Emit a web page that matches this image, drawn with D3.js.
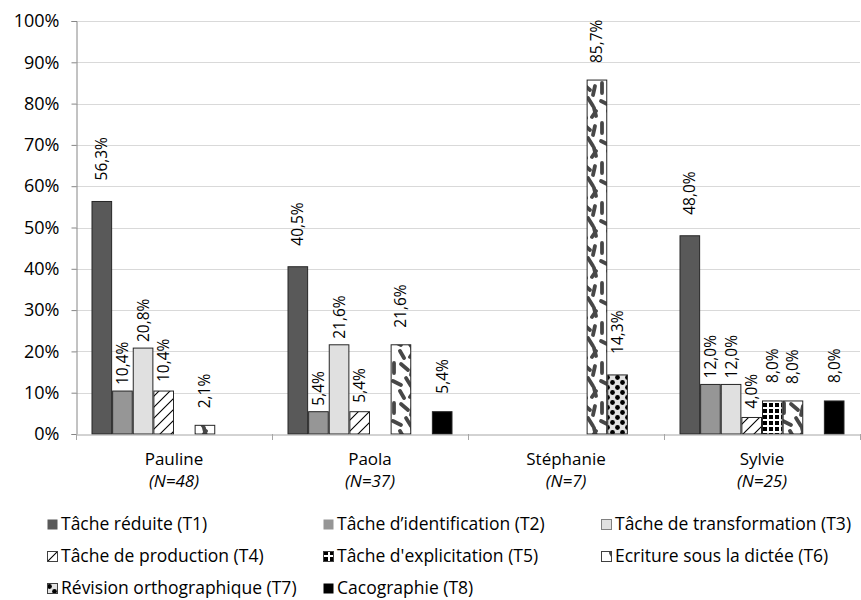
<!DOCTYPE html>
<html><head><meta charset="utf-8">
<script src="https://cdn.jsdelivr.net/npm/d3@7"></script>
<style>
body{margin:0;background:#fff;}
text{font-family:"Open Sans","Noto Sans",sans-serif;fill:#000;}
</style></head>
<body><svg id="c" width="861" height="600"></svg>
<script>
const categories = ["Pauline","Paola","Stéphanie","Sylvie"];
const categoryN = ["(N=48)","(N=37)","(N=7)","(N=25)"];
const seriesNames = ["Tâche réduite (T1)","Tâche d’identification (T2)","Tâche de transformation (T3)",
  "Tâche de production (T4)","Tâche d'explicitation (T5)","Ecriture sous la dictée (T6)",
  "Révision orthographique (T7)","Cacographie (T8)"];
// values (%) per series, one per category
const T1 = [56.3, 40.5, 0, 48.0];
const T2 = [10.4, 5.4, 0, 12.0];
const T3 = [20.8, 21.6, 0, 12.0];
const T4 = [10.4, 5.4, 0, 4.0];
const T5 = [0, 0, 0, 8.0];
const T6 = [2.1, 21.6, 85.7, 8.0];
const T7 = [0, 0, 14.3, 0];
const T8 = [0, 5.4, 0, 8.0];
const seriesValues = [T1,T2,T3,T4,T5,T6,T7,T8];
const yTicks = [0,10,20,30,40,50,60,70,80,90,100];

// styles
const labelGap = [21, 6, 6, 9, 18, 17, 21, 18];
const fills = ["#595959","#969696","#e0e0e0","url(#pT4)","url(#pT5)","url(#pT6)","url(#pT7)","#000000"];

const svg = d3.select("#c");
const defs = svg.append("defs");
// T4 hatch
let p = defs.append("pattern").attr("id","pT4").attr("patternUnits","userSpaceOnUse").attr("width",11).attr("height",11);
p.append("rect").attr("width",11).attr("height",11).attr("fill","#fff");
p.append("path").attr("d","M0,11 L11,0 M-2,2 L2,-2 M9,13 L13,9").attr("stroke","#000").attr("stroke-width",1.1);
// T5 squares
p = defs.append("pattern").attr("id","pT5").attr("patternUnits","userSpaceOnUse").attr("width",6).attr("height",6);
p.append("rect").attr("width",6).attr("height",6).attr("fill","#fff");
p.append("rect").attr("x",1).attr("y",1).attr("width",4).attr("height",4).attr("fill","#000");
// T6 confetti dashes
p = defs.append("pattern").attr("id","pT6").attr("patternUnits","userSpaceOnUse").attr("width",26).attr("height",40);
p.append("rect").attr("width",26).attr("height",40).attr("fill","#ffffff");
const dashes = [[4,3,4,13],[11,4,18,10],[23,6,21,15],[3,21,11,25],[16,18,21,26],[10,31,14,38],
  [24,31,20,37],[-2,28,-4,36],[22,28,24,36]];
dashes.forEach(d=>p.append("line").attr("x1",d[0]).attr("y1",d[1]).attr("x2",d[2]).attr("y2",d[3])
  .attr("stroke","#474747").attr("stroke-width",3.8).attr("stroke-linecap","round"));
// T7 dots
p = defs.append("pattern").attr("id","pT7").attr("patternUnits","userSpaceOnUse").attr("width",10).attr("height",10);
p.append("rect").attr("width",10).attr("height",10).attr("fill","#e3e3e3");
p.append("circle").attr("cx",2.5).attr("cy",2.5).attr("r",2.4).attr("fill","#000");
p.append("circle").attr("cx",7.5).attr("cy",7.5).attr("r",2.4).attr("fill","#000");

const pLeft = 76, pRight = 860, pTop = 21, pBottom = 434;
const x0 = d3.scaleBand().domain(categories).range([pLeft,pRight]).padding(0);
const x1 = d3.scaleBand().domain(d3.range(8)).range([15.5, x0.bandwidth()-15.5]).padding(0);
const y = d3.scaleLinear().domain([0,100]).range([pBottom,pTop]);

// gridlines
svg.append("g").selectAll("line").data(yTicks.filter(t=>t>0)).join("line")
  .attr("x1",pLeft).attr("x2",pRight).attr("y1",d=>Math.round(y(d))+0.5).attr("y2",d=>Math.round(y(d))+0.5)
  .attr("stroke","#d9d9d9").attr("stroke-width",1);

// y axis
const yAxis = d3.axisLeft(y).tickValues(yTicks).tickFormat(d=>d+"%").tickSize(5).tickPadding(12);
const gy = svg.append("g").attr("transform",`translate(${pLeft+0.5},0)`).call(yAxis);
gy.select(".domain").attr("stroke","#868686");
gy.selectAll(".tick line").attr("stroke","#868686");
gy.selectAll("text").attr("font-size",18).attr("fill","#000");

// bars
const data = [];
seriesValues.forEach((vals,si)=>vals.forEach((v,ci)=>{ if(v>0) data.push({si,ci,v}); }));
const gb = svg.append("g");
gb.selectAll("rect").data(data).join("rect")
  .attr("x",d=>x0(categories[d.ci])+x1(d.si)+0.5)
  .attr("y",d=>y(d.v))
  .attr("width",x1.bandwidth()-1)
  .attr("height",d=>pBottom-y(d.v))
  .attr("fill",d=>fills[d.si])
  .attr("stroke","#262626").attr("stroke-width",1);

// x axis
const xAxis = d3.axisBottom(x0).tickSize(0).tickFormat("");
const gx = svg.append("g").attr("transform",`translate(0,${pBottom+0.5})`).call(xAxis);
gx.select(".domain").attr("stroke","#a6a6a6");
const bounds = categories.map(c=>x0(c)).concat([pRight]);
svg.append("g").selectAll("line").data(bounds).join("line")
  .attr("x1",d=>Math.round(d)+0.5).attr("x2",d=>Math.round(d)+0.5).attr("y1",pBottom).attr("y2",pBottom+6)
  .attr("stroke","#a6a6a6");

// category labels
const gc = svg.append("g");
gc.selectAll("text.cat").data(categories).join("text").attr("class","cat")
  .attr("x",d=>x0(d)+x0.bandwidth()/2).attr("y",465).attr("text-anchor","middle").attr("font-size",17).text(d=>d);
gc.selectAll("text.n").data(categoryN).join("text").attr("class","n")
  .attr("x",(d,i)=>x0(categories[i])+x0.bandwidth()/2).attr("y",487).attr("text-anchor","middle")
  .attr("font-size",17).attr("font-style","italic").text(d=>d);

// value labels
svg.append("g").selectAll("text").data(data).join("text")
  .attr("transform",d=>`translate(${x0(categories[d.ci])+x1(d.si)+x1.bandwidth()/2+5.5},${y(d.v)-labelGap[d.si]}) rotate(-90)`)
  .attr("font-size",15.5).attr("text-anchor","start")
  .text(d=>d.v.toFixed(1).replace(".",",")+"%");

// legend
const legCols = [47, 323, 601], legRows = [530, 562, 594];
const lg = svg.append("g");
seriesNames.forEach((name,i)=>{
  const cx = legCols[i%3], cy = legRows[Math.floor(i/3)];
  const g = lg.append("g").attr("transform",`translate(${cx},${cy})`);
  g.append("rect").attr("x",0.5).attr("y",-10.5).attr("width",10).attr("height",10)
   .attr("fill",fills[i]).attr("stroke", i===2?"#808080":(i===0||i===1||i===7?"none":"#404040")).attr("stroke-width",1);
  g.append("text").attr("x",14).attr("y",0).attr("font-size",17.5).text(name);
});
</script></body></html>
